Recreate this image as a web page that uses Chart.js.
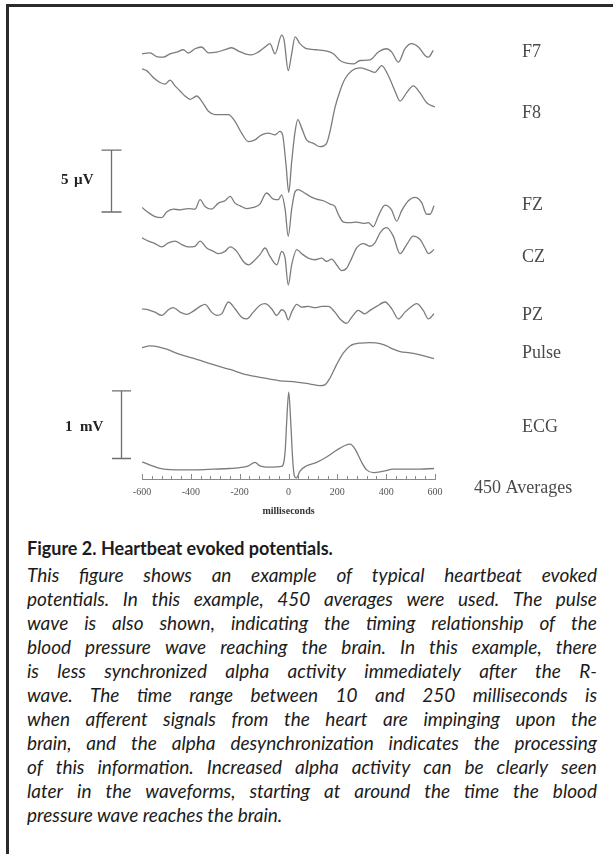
<!DOCTYPE html>
<html>
<head>
<meta charset="utf-8">
<script src="https://cdn.jsdelivr.net/npm/chart.js@4.4.1/dist/chart.umd.min.js"></script>
<style>
  html, body { margin: 0; padding: 0; background: #fff; width: 613px; height: 854px; overflow: hidden; }
  #frame { position: absolute; left: 6px; top: 4px; right: 0; bottom: 0; border-top: 3px solid #2b2b2b; border-left: 3px solid #2b2b2b; }
  #chartWrap { position: absolute; left: 0; top: 0; width: 613px; height: 530px; }
  #caption { position: absolute; left: 27px; top: 536px; width: 570px; font-family: Lato, "Open Sans", sans-serif; color: #1c1c1c; }
  #caption .h { font-weight: bold; font-size: 18px; line-height: 24px; height: 24px; white-space: nowrap; margin-bottom: 3px; }
  #caption .l { font-style: italic; font-size: 19px; line-height: 24px; height: 24px; white-space: nowrap; display: flex; justify-content: space-between; }
  #caption .l.last { display: block; }
</style>
</head>
<body>
<div id="frame"></div>
<div id="chartWrap"><canvas id="c" width="613" height="530"></canvas></div>
<div id="caption"></div>
<script>
// ---------------- DATA ----------------
// time axis (milliseconds) tick labels
const xTickLabels = [-600, -400, -200, 0, 200, 400, 600];

// F7 (µV)
const f7Times  = [-600,-567,-540,-513,-485,-458,-431,-410,-383,-356,-328,-294,-260,-233,-205,-178,-151,-124,-96,-76,-55,-28,-18,-1,13,27,47,74,115,156,184,211,238,266,293,334,368,402,423,450,477,504,532,559,573,593];
const f7Values = [-0.03,0.05,-0.25,-0.30,-0.03,0.11,0.30,0.03,0.38,0.52,0.05,0.11,0.30,0.46,0.19,-0.03,-0.11,0.11,0.52,0.79,-0.03,1.48,1.07,-1.39,-0.03,1.34,0.79,0.38,0.30,0.19,-0.03,-0.57,-0.79,-0.85,-0.57,-0.52,0.11,0.38,0.11,-0.71,0.38,0.79,0.52,-0.16,-0.30,0.25];

// F8 (µV)
const f8Times  = [-600,-581,-554,-526,-506,-485,-465,-444,-424,-403,-376,-356,-328,-301,-274,-246,-219,-192,-164,-137,-110,-83,-55,-35,-24,-10,1,13,27,38,54,74,102,129,156,170,190,211,231,259,293,327,354,382,409,436,457,484,511,538,566,600];
const f8Values = [2.60,2.46,1.91,1.50,1.37,1.69,1.23,0.82,0.41,0.14,0.41,0,-0.82,-1.09,-1.09,-1.09,-1.64,-2.60,-3.28,-3.14,-2.73,-2.60,-2.73,-2.46,-2.73,-5.19,-7.38,-4.92,-2.46,-1.50,-2.19,-3.14,-3.42,-3.69,-3.42,-2.46,-0.55,0.82,1.78,2.46,2.68,2.51,2.32,2.87,2.05,0.82,0,0.68,1.23,0.68,-0.14,-0.49];

// FZ (µV)
const fzTimes  = [-600,-574,-547,-519,-499,-472,-444,-410,-383,-362,-342,-315,-287,-260,-239,-219,-198,-171,-144,-117,-90,-62,-42,-28,-14,-1,13,27,40,61,88,115,143,170,190,204,225,252,279,306,327,347,368,395,422,443,463,491,518,545,566,580,596];
const fzValues = [0.14,-0.27,-0.60,-0.68,-0.22,0,-0.05,0.05,0,0.77,0.22,0,0.49,0.68,1.04,0.49,0.27,0.05,0.14,0.41,1.31,0.82,0.77,1.15,0,-2.19,0,1.42,1.58,1.37,1.04,0.82,0.68,0.41,0.22,-0.41,-1.04,-1.09,-1.04,-1.15,-1.09,-1.42,-0.55,0.33,-0.05,-0.96,-0.14,0.68,0.96,0.55,-0.41,-0.41,0.27];

// CZ (µV)
const czTimes  = [-600,-574,-547,-519,-492,-465,-437,-410,-383,-362,-335,-308,-287,-260,-239,-212,-185,-164,-144,-117,-96,-76,-48,-28,-14,-1,13,34,54,81,109,136,156,177,197,218,238,259,279,306,334,354,375,402,429,457,484,511,539,559,573,596];
const czValues = [0.68,0.41,0.22,-0.05,0.27,0.41,0.14,-0.05,0,0.41,-0.14,-0.41,-0.60,-0.41,-0.05,-0.41,-1.23,-1.50,-1.23,-0.68,-0.14,-0.82,-1.50,-0.41,-0.96,-3.14,-1.50,-0.27,-0.60,-0.96,-1.09,-0.96,-1.23,-1.04,-1.50,-1.97,-1.78,-0.96,-0.14,0.22,0,0.27,1.09,1.50,0.82,-0.60,0.14,0.82,0.55,-0.14,-0.60,-0.27];

// PZ (µV)
const pzTimes  = [-600,-574,-547,-519,-492,-472,-444,-417,-390,-362,-342,-315,-294,-274,-246,-219,-192,-171,-144,-117,-96,-69,-48,-28,-14,-1,13,34,54,81,109,136,163,190,211,238,259,286,313,334,361,395,423,450,477,504,525,552,573,596];
const pzValues = [0.27,0.19,0,-0.27,0.19,0.36,0,-0.19,0.08,0.46,0.63,0,-0.27,-0.14,0.82,0.27,-0.41,-0.55,0,0.55,0.68,0.27,-0.27,0.19,0,-0.63,0,0.63,0.41,0.46,0.36,0.46,0.46,0,-0.55,-0.90,-0.41,0.14,-0.14,0.14,0.46,0.82,0.27,-0.55,0,0.46,0.68,0.14,-0.55,-0.14];

// Pulse (arbitrary units)
const pulseTimes  = [-600,-567,-533,-499,-445,-376,-308,-240,-172,-103,-35,33,88,129,149,170,197,225,252,293,334,375,402,429,457,498,539,596];
const pulseValues = [0.96,1.00,0.98,0.92,0.79,0.67,0.54,0.42,0.29,0.21,0.14,0.11,0.06,0.02,0.04,0.21,0.54,0.83,1.00,1.07,1.08,1.06,1.00,0.92,0.86,0.83,0.78,0.69];

// ECG (mV)
const ecgTimes  = [-600,-567,-512,-444,-376,-308,-240,-185,-164,-137,-117,-76,-28,-14,-8,1,9,17,24,33,47,74,115,156,197,231,252,272,300,320,348,389,429,484,539,596];
const ecgValues = [0.11,0.06,0,-0.01,-0.01,0,0.01,0.03,0.05,0.10,0.05,0.03,0.04,0.25,0.66,1.14,0.71,0.15,-0.10,-0.13,-0.03,0.05,0.10,0.18,0.28,0.35,0.37,0.30,0.10,-0.01,-0.05,-0.03,0,0,0,0.01];

// channel names
const channelNames = ['F7', 'F8', 'FZ', 'CZ', 'PZ', 'Pulse', 'ECG'];

// caption
const captionTitle = 'Figure 2. Heartbeat evoked potentials.';
const captionLines = [
  'This figure shows an example of typical heartbeat evoked',
  'potentials. In this example, 450 averages were used. The pulse',
  'wave is also shown, indicating the timing relationship of the',
  'blood pressure wave reaching the brain. In this example, there',
  'is less synchronized alpha activity immediately after the R-',
  'wave. The time range between 10 and 250 milliseconds is',
  'when afferent signals from the heart are impinging upon the',
  'brain, and the alpha desynchronization indicates the processing',
  'of this information. Increased alpha activity can be clearly seen',
  'later in the waveforms, starting at around the time the blood',
  'pressure wave reaches the brain.'
];

// ---------------- LAYOUT / STYLE ----------------
const AREA_TOP = 20, AREA_BOTTOM = 473;           // chart area in px
const traceSeries = [
  { name: channelNames[0], t: f7Times,    v: f7Values,    basePx: 53,    pxPerUnit: 12.2, labelY: 52  },
  { name: channelNames[1], t: f8Times,    v: f8Values,    basePx: 100,   pxPerUnit: 12.2, labelY: 113 },
  { name: channelNames[2], t: fzTimes,    v: fzValues,    basePx: 206.7, pxPerUnit: 12.2, labelY: 205 },
  { name: channelNames[3], t: czTimes,    v: czValues,    basePx: 243.3, pxPerUnit: 12.2, labelY: 257 },
  { name: channelNames[4], t: pzTimes,    v: pzValues,    basePx: 308.3, pxPerUnit: 12.2, labelY: 315 },
  { name: channelNames[5], t: pulseTimes, v: pulseValues, basePx: 381.7, pxPerUnit: 40,   labelY: 353 },
  { name: channelNames[6], t: ecgTimes,   v: ecgValues,   basePx: 463.3, pxPerUnit: 66.7, labelY: 427 }
];

const scales = {
  x: {
    type: 'linear', min: -600, max: 600,
    grid: { display: false, drawTicks: false },
    border: { display: true, color: '#8a8a8a', width: 1 },
    ticks: {
      stepSize: 40, autoSkip: false, maxRotation: 0, padding: 7,
      color: '#555', font: { family: 'Liberation Serif', size: 10 },
      callback: (v) => xTickLabels.includes(v) ? String(v) : ''
    },
    title: { display: true, text: 'milliseconds', color: '#333', padding: { top: 0, bottom: 0 },
             font: { family: 'Liberation Serif', size: 10, weight: 'bold' } }
  }
};
const datasets = [];
traceSeries.forEach((s, i) => {
  const id = 'y' + i;
  scales[id] = {
    type: 'linear', display: false,
    max: (s.basePx - AREA_TOP) / s.pxPerUnit,
    min: -(AREA_BOTTOM - s.basePx) / s.pxPerUnit
  };
  datasets.push({
    label: s.name,
    data: s.t.map((t, k) => ({ x: t, y: s.v[k] })),
    yAxisID: id,
    borderColor: '#7c7c7c', borderWidth: 1.3,
    pointRadius: 0, fill: false,
    cubicInterpolationMode: 'monotone'
  });
});

const overlay = {
  id: 'overlay',
  afterDraw(chart) {
    const ctx = chart.ctx, xs = chart.scales.x, area = chart.chartArea;
    ctx.save();
    // upward tick marks on time axis
    ctx.strokeStyle = '#8a8a8a'; ctx.lineWidth = 1;
    ctx.beginPath();
    xs.ticks.forEach(t => {
      const px = Math.round(xs.getPixelForValue(t.value)) + 0.5;
      const major = xTickLabels.includes(t.value);
      ctx.moveTo(px, area.bottom);
      ctx.lineTo(px, area.bottom - (major ? 5 : 3));
    });
    ctx.stroke();

    // channel labels
    ctx.fillStyle = '#4a4a4a';
    ctx.font = '18px "Liberation Serif"';
    ctx.textBaseline = 'middle'; ctx.textAlign = 'left';
    traceSeries.forEach(s => ctx.fillText(s.name, 522, s.labelY));
    ctx.fillText('450 Averages', 474, 488);

    // scale bars, lengths from the library's scales
    const yFZ = chart.scales.y2, yECG = chart.scales.y6;
    ctx.strokeStyle = '#6e6e6e'; ctx.lineWidth = 1.3;
    const bar = (x, bottom, len, half) => {
      ctx.beginPath();
      ctx.moveTo(x, bottom); ctx.lineTo(x, bottom - len);
      ctx.moveTo(x - half, bottom); ctx.lineTo(x + half, bottom);
      ctx.moveTo(x - half, bottom - len); ctx.lineTo(x + half, bottom - len);
      ctx.stroke();
    };
    const uvLen = yFZ.getPixelForValue(0) - yFZ.getPixelForValue(5);
    bar(111.5, 212, uvLen, 10);
    const mvLen = yECG.getPixelForValue(0) - yECG.getPixelForValue(1);
    bar(121.5, 458.5, mvLen, 9.5);

    ctx.fillStyle = '#222';
    ctx.font = 'bold 15px "Liberation Serif"';
    ctx.textAlign = 'left';
    ctx.fillText('5', 61, 180);
    ctx.fillText('µV', 74, 180);
    ctx.fillText('1', 65, 427);
    ctx.fillText('mV', 80, 427);
    ctx.restore();
  }
};

new Chart(document.getElementById('c'), {
  type: 'line',
  data: { datasets },
  options: {
    responsive: false, animation: false,
    layout: { padding: { left: 142, right: 178, top: AREA_TOP, bottom: 13 } },
    plugins: { legend: { display: false }, tooltip: { enabled: false } },
    scales
  },
  plugins: [overlay]
});

// caption
const cap = document.getElementById('caption');
const h = document.createElement('div'); h.className = 'h'; h.textContent = captionTitle; cap.appendChild(h);
captionLines.forEach((line, i) => {
  const d = document.createElement('div');
  if (i === captionLines.length - 1) { d.className = 'l last'; d.textContent = line; }
  else {
    d.className = 'l';
    line.split(' ').forEach(w => { const s = document.createElement('span'); s.textContent = w; d.appendChild(s); });
  }
  cap.appendChild(d);
});
</script>
</body>
</html>
